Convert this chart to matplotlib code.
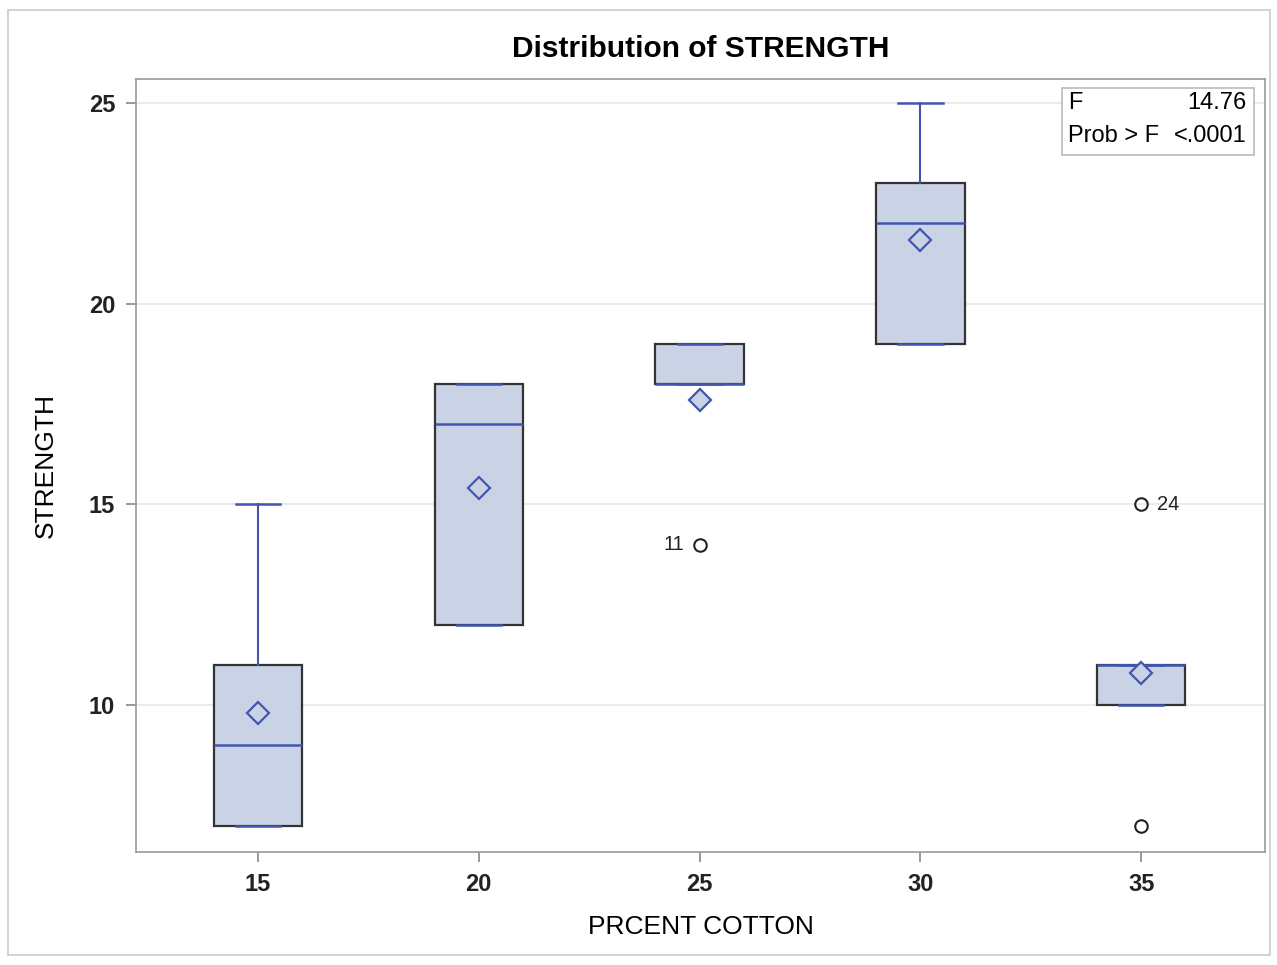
import numpy as np
import matplotlib.pyplot as plt

plt.rcParams['font.family'] = ['Liberation Sans', 'DejaVu Sans']

cotton = [15, 20, 25, 30, 35]
strength = [
    [7, 7, 15, 11, 9],
    [12, 17, 12, 18, 18],
    [14, 18, 18, 19, 19],
    [19, 25, 22, 19, 23],
    [7, 10, 11, 15, 11],
]
# outlier labels: (cotton, strength, obs id, side)
outlier_ids = [(25, 14, "11", "left"), (35, 15, "24", "right")]
f_value = "14.76"
prob_f = "<.0001"

fill = "#CAD3E5"
blue = "#4255B0"
edge = "#333333"

fig = plt.figure(figsize=(12.77, 9.65), dpi=100)
ax = fig.add_axes([136 / 1277, 1 - 852 / 965, (1265 - 136) / 1277, (852 - 79) / 965])

ax.grid(axis="y", color="#E6E6E6", lw=1.2, zorder=0)
ax.set_axisbelow(True)

ax.boxplot(strength, positions=cotton, widths=2.0, whis=1.5, patch_artist=True,
           showmeans=True, manage_ticks=False,
           boxprops=dict(facecolor=fill, edgecolor=edge, lw=1.6),
           medianprops=dict(color=blue, lw=1.8),
           whiskerprops=dict(color=blue, lw=1.5),
           capprops=dict(color=blue, lw=1.8),
           capwidths=1.0,
           meanprops=dict(marker="D", markersize=11, markerfacecolor=fill,
                          markeredgecolor=blue, markeredgewidth=1.6),
           flierprops=dict(marker="o", markersize=9, markerfacecolor="none",
                           markeredgecolor="#222222", markeredgewidth=1.5))

for x, y, lab, side in outlier_ids:
    dx = -0.35 if side == "left" else 0.35
    ax.text(x + dx, y, lab, ha="right" if side == "left" else "left", va="center",
            fontsize=14.5, color="#222222")

ax.set_xlim(12.24, 37.8)
ax.set_ylim(6.34, 25.6)
ax.set_xticks(cotton)
ax.set_yticks([10, 15, 20, 25])
ax.tick_params(labelsize=17, color="#888888", length=7, width=1.2, pad=8)
for lab in ax.get_xticklabels() + ax.get_yticklabels():
    lab.set_fontweight("semibold")
    lab.set_color("#222222")
for s in ax.spines.values():
    s.set_color("#999999")
    s.set_linewidth(1.2)

ax.set_xlabel("PRCENT COTTON", fontsize=19, labelpad=14)
ax.set_ylabel("STRENGTH", fontsize=19, labelpad=22)
ax.set_title("Distribution of STRENGTH", fontsize=21.5, fontweight="bold", pad=16)

# stats inset
bx, by, bw, bh = 1062 / 1277, 1 - 155 / 965, (1254 - 1062) / 1277, (155 - 88) / 965
fig.patches.append(plt.Rectangle((bx, by), bw, bh, transform=fig.transFigure,
                                 facecolor="white", edgecolor="#BBBBBB", lw=1.2, zorder=5))
fig.text(bx + 6 / 1277, 1 - 103 / 965, "F", fontsize=17, va="center", zorder=6)
fig.text(bx + bw - 7 / 1277, 1 - 103 / 965, f_value, fontsize=17, va="center", ha="right", zorder=6)
fig.text(bx + 6 / 1277, 1 - 136 / 965, "Prob > F", fontsize=17, va="center", zorder=6)
fig.text(bx + bw - 7 / 1277, 1 - 136 / 965, prob_f, fontsize=17, va="center", ha="right", zorder=6)

# outer frame
fig.patches.append(plt.Rectangle((8 / 1277, 1 - 955 / 965), 1262 / 1277, 945 / 965,
                                 transform=fig.transFigure, facecolor="none",
                                 edgecolor="#CCCCCC", lw=1.2))

fig.savefig("out.png", dpi=100)
